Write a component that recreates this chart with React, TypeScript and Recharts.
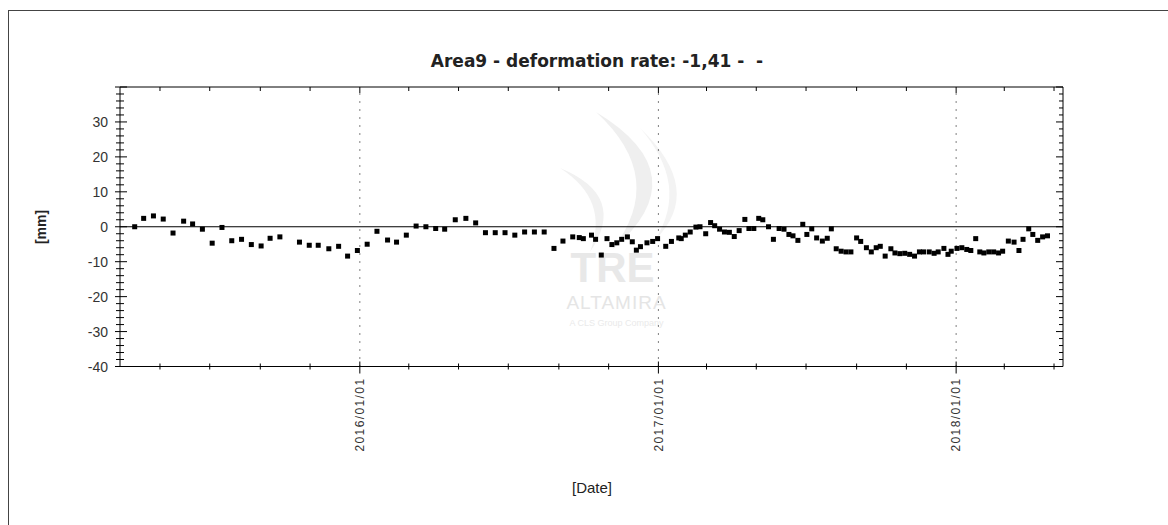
import React from "react";
import { ScatterChart, Scatter, XAxis, YAxis, ReferenceLine } from "recharts";

// plot box in page pixels (chart svg sits at 0,0)
const PLOT = { left: 120, right: 1063, top: 87, bottom: 366.5 };
const FONT = "'Liberation Sans', Arial, sans-serif";

// acquisitions (mm)
const dates15 = ["2015-03-31", "2015-04-11", "2015-04-23", "2015-05-05", "2015-05-17", "2015-05-30", "2015-06-10", "2015-06-22", "2015-07-04", "2015-07-16", "2015-07-28", "2015-08-09", "2015-08-21", "2015-09-02", "2015-09-13", "2015-09-25", "2015-10-19", "2015-10-31", "2015-11-11", "2015-11-24", "2015-12-06", "2015-12-17", "2015-12-29"];
const mm15 = [0, 2.4, 3.1, 2.2, -1.8, 1.6, 0.8, -0.7, -4.7, -0.2, -4.0, -3.6, -5.1, -5.5, -3.3, -2.9, -4.4, -5.3, -5.3, -6.3, -5.6, -8.4, -6.8];

const dates16 = ["2016-01-10", "2016-01-22", "2016-02-04", "2016-02-15", "2016-02-27", "2016-03-10", "2016-03-22", "2016-04-03", "2016-04-14", "2016-04-27", "2016-05-10", "2016-05-22", "2016-06-03", "2016-06-15", "2016-06-27", "2016-07-09", "2016-07-21", "2016-08-02", "2016-08-14", "2016-08-26", "2016-09-06", "2016-09-18", "2016-09-26", "2016-10-01", "2016-10-11", "2016-10-16", "2016-10-23", "2016-10-30", "2016-11-05", "2016-11-11", "2016-11-17", "2016-11-24", "2016-11-30", "2016-12-05", "2016-12-10", "2016-12-18", "2016-12-25", "2016-12-31"];
const mm16 = [-5.0, -1.3, -3.8, -4.4, -2.4, 0.2, 0, -0.5, -0.7, 2.0, 2.4, 1.1, -1.7, -1.7, -1.7, -2.4, -1.5, -1.5, -1.5, -6.2, -4.1, -2.9, -3.1, -3.4, -2.4, -3.6, -8.1, -3.4, -5.1, -4.6, -3.6, -2.9, -4.3, -6.7, -5.7, -4.6, -4.2, -3.4];

const dates17 = ["2017-01-10", "2017-01-17", "2017-01-26", "2017-01-29", "2017-02-03", "2017-02-09", "2017-02-16", "2017-02-21", "2017-02-28", "2017-03-06", "2017-03-11", "2017-03-17", "2017-03-23", "2017-03-29", "2017-04-04", "2017-04-10", "2017-04-17", "2017-04-22", "2017-04-28", "2017-05-04", "2017-05-09", "2017-05-16", "2017-05-22", "2017-05-29", "2017-06-04", "2017-06-10", "2017-06-15", "2017-06-21", "2017-06-27", "2017-07-02", "2017-07-08", "2017-07-14", "2017-07-21", "2017-07-27", "2017-08-01", "2017-08-07", "2017-08-13", "2017-08-19", "2017-08-25", "2017-09-01", "2017-09-06", "2017-09-13", "2017-09-19", "2017-09-25", "2017-09-30", "2017-10-06", "2017-10-13", "2017-10-18", "2017-10-24", "2017-10-30", "2017-11-05", "2017-11-11", "2017-11-17", "2017-11-22", "2017-11-29", "2017-12-05", "2017-12-10", "2017-12-17", "2017-12-22", "2017-12-26"];
const mm17 = [-5.6, -4.2, -3.2, -3.4, -2.4, -1.5, -0.1, 0, -2.0, 1.2, 0.3, -0.7, -1.5, -1.6, -2.8, -1.1, 2.1, -0.5, -0.5, 2.4, 2.0, 0, -3.6, -0.5, -0.7, -2.2, -2.6, -3.9, 0.7, -2.2, -0.6, -3.2, -4.1, -3.3, -0.6, -6.3, -7.0, -7.2, -7.2, -3.2, -4.2, -6.0, -7.2, -6.0, -5.6, -8.4, -6.3, -7.5, -7.7, -7.6, -7.9, -8.4, -7.2, -7.2, -7.2, -7.6, -7.2, -6.2, -7.9, -7.0];

const dates18 = ["2018-01-02", "2018-01-08", "2018-01-14", "2018-01-19", "2018-01-25", "2018-01-30", "2018-02-04", "2018-02-10", "2018-02-16", "2018-02-22", "2018-02-27", "2018-03-06", "2018-03-13", "2018-03-19", "2018-03-24", "2018-03-31", "2018-04-05", "2018-04-11", "2018-04-17", "2018-04-23"];
const mm18 = [-6.2, -6.0, -6.5, -6.8, -3.4, -7.2, -7.5, -7.2, -7.2, -7.5, -7.0, -4.1, -4.4, -6.8, -3.6, -0.6, -2.2, -3.9, -2.9, -2.6];

// axes
const xDomain = ["2015-03-13", "2018-05-12"];
const yearTicks = ["2016-01-01", "2017-01-01", "2018-01-01"];
const monthTicks = ["2015-05-01", "2015-07-01", "2015-09-01", "2015-11-01", "2016-03-01", "2016-05-01", "2016-07-01", "2016-09-01", "2016-11-01", "2017-03-01", "2017-05-01", "2017-07-01", "2017-09-01", "2017-11-01", "2018-03-01", "2018-05-01"];
const yLabelTicks = [-40, -30, -20, -10, 0, 10, 20, 30];
const yTicks = [-40, -38, -36, -34, -32, -30, -28, -26, -24, -22, -20, -18, -16, -14, -12, -10, -8, -6, -4, -2, 0, 2, 4, 6, 8, 10, 12, 14, 16, 18, 20, 22, 24, 26, 28, 30, 32, 34, 36, 38, 40];

const toPts = (d: string[], v: number[]) => d.map((s, i) => ({ t: Date.parse(s), v: v[i] }));
const data = [...toPts(dates15, mm15), ...toPts(dates16, mm16), ...toPts(dates17, mm17), ...toPts(dates18, mm18)];

const yearMs = yearTicks.map((s) => Date.parse(s));
const xTicks = [...monthTicks, ...yearTicks].map((s) => Date.parse(s)).sort((a, b) => a - b);

function fmtDate(ms: number) {
  const d = new Date(ms);
  const p = (n: number) => String(n).padStart(2, "0");
  return `${d.getUTCFullYear()}/${p(d.getUTCMonth() + 1)}/${p(d.getUTCDate())}`;
}

function BottomTick(props: any) {
  const { x, payload } = props;
  const major = yearMs.includes(payload.value);
  const ty = PLOT.bottom + 11;
  return (
    <g>
      <line x1={x} x2={x} y1={PLOT.bottom - (major ? 5 : 3)} y2={PLOT.bottom + (major ? 7 : 3)} stroke="#000" />
      {major && (
        <text x={x} y={ty} dy="0.36em" transform={`rotate(-90 ${x} ${ty})`} textAnchor="end" fontFamily={FONT} fontSize={12} letterSpacing={1.4} fill="#333">
          {fmtDate(payload.value)}
        </text>
      )}
    </g>
  );
}

function TopTick(props: any) {
  const { x, payload } = props;
  const major = yearMs.includes(payload.value);
  return <line x1={x} x2={x} y1={PLOT.top} y2={PLOT.top + (major ? 6 : 4)} stroke="#000" />;
}

function LeftTick(props: any) {
  const { y, payload } = props;
  const major = payload.value % 10 === 0;
  return (
    <g>
      <line x1={PLOT.left - (major ? 5 : 4)} x2={PLOT.left + (major ? 7 : 4)} y1={y} y2={y} stroke="#000" />
      {yLabelTicks.includes(payload.value) && (
        <text x={PLOT.left - 12} y={y} dy="0.36em" textAnchor="end" fontFamily={FONT} fontSize={14} fill="#333">
          {payload.value}
        </text>
      )}
    </g>
  );
}

function RightTick(props: any) {
  const { y, payload } = props;
  const major = payload.value % 10 === 0;
  return <line x1={PLOT.right - (major ? 7 : 4)} x2={PLOT.right} y1={y} y2={y} stroke="#000" />;
}

const Square = (p: any) => <rect x={p.cx - 2.5} y={p.cy - 2.5} width={5} height={5} fill="#000" />;

const txt: React.CSSProperties = { position: "absolute", fontFamily: FONT, color: "#222", whiteSpace: "nowrap", lineHeight: 1 };

export default function App() {
  const domain = xDomain.map((s) => Date.parse(s));
  return (
    <div style={{ position: "absolute", left: 0, top: 0, width: 1168, height: 525, overflow: "hidden", background: "#fff" }}>
      <div style={{ position: "absolute", left: 8, top: 10, width: 1200, height: 600, borderLeft: "1px solid #444", borderTop: "1px solid #444" }} />

      {/* faint logo watermark */}
      <svg width={1168} height={525} style={{ position: "absolute", left: 0, top: 0 }}>
        <path d="M 596 112 Q 700 175 612 250 Q 668 178 596 112 Z" fill="#efefef" />
        <path d="M 560 168 Q 610 200 590 252 Q 628 196 560 168 Z" fill="#f1f1f1" />
        <path d="M 640 128 Q 705 190 655 240 Q 690 185 640 128 Z" fill="#f3f3f3" />
      </svg>
      <div style={{ ...txt, left: 0, width: 1225, top: 247, textAlign: "center", fontSize: 42, fontWeight: 700, color: "#e8e8e8" }}>TRE</div>
      <div style={{ ...txt, left: 0, width: 1233, top: 293, textAlign: "center", fontSize: 19, color: "#e5e5e5", letterSpacing: 1 }}>ALTAMIRA</div>
      <div style={{ ...txt, left: 0, width: 1233, top: 319, textAlign: "center", fontSize: 9, color: "#eaeaea" }}>A CLS Group Company</div>

      <div style={{ ...txt, left: 0, width: 1194, top: 53, textAlign: "center", fontSize: 17, fontWeight: 700, fontFamily: "'DejaVu Sans', sans-serif" }}>Area9 - deformation rate: -1,41 -&nbsp; -</div>
      <div style={{ ...txt, left: 41, top: 227, fontSize: 14, fontWeight: 700, transform: "translate(-50%, -50%) rotate(-90deg)" }}>[mm]</div>
      <div style={{ ...txt, left: 0, width: 1184, top: 480, textAlign: "center", fontSize: 15 }}>[Date]</div>

      <div style={{ position: "absolute", left: 0, top: 0 }}>
        <ScatterChart width={1168} height={525} margin={{ top: 67, right: 85, bottom: 98.5, left: 80 }}>
          <XAxis xAxisId="b" type="number" dataKey="t" domain={domain} allowDataOverflow ticks={xTicks} interval={0} height={60} tickLine={false} axisLine={{ stroke: "#000" }} tick={<BottomTick />} />
          <XAxis xAxisId="t" orientation="top" type="number" dataKey="t" domain={domain} allowDataOverflow ticks={xTicks} interval={0} height={20} tickLine={false} axisLine={{ stroke: "#000" }} tick={<TopTick />} />
          <YAxis yAxisId="l" type="number" dataKey="v" domain={[-40, 40]} allowDataOverflow ticks={yTicks} interval={0} width={40} tickLine={false} axisLine={{ stroke: "#000" }} tick={<LeftTick />} />
          <YAxis yAxisId="r" orientation="right" type="number" dataKey="v" domain={[-40, 40]} allowDataOverflow ticks={yTicks} interval={0} width={20} tickLine={false} axisLine={{ stroke: "#000" }} tick={<RightTick />} />
          {yearMs.map((ms) => (
            <ReferenceLine key={ms} xAxisId="b" yAxisId="l" x={ms} stroke="#000" strokeDasharray="1 7" />
          ))}
          <ReferenceLine xAxisId="b" yAxisId="l" y={0} stroke="#000" />
          <Scatter xAxisId="b" yAxisId="l" data={data} shape={Square} isAnimationActive={false} />
        </ScatterChart>
      </div>
    </div>
  );
}
